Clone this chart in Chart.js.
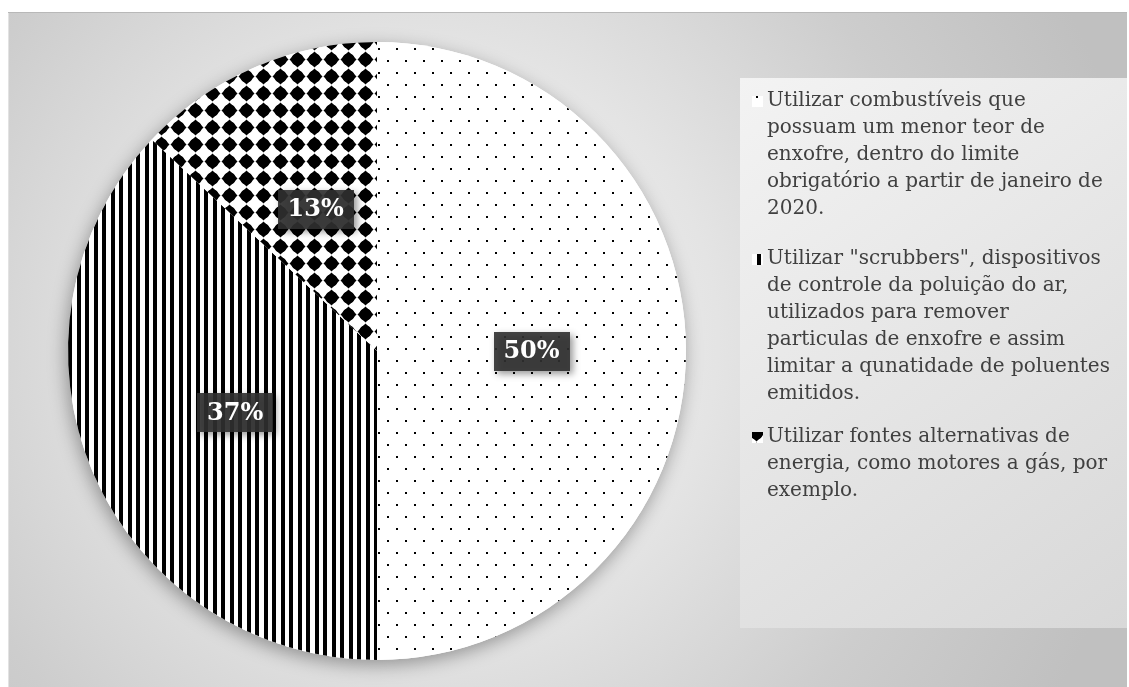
<!DOCTYPE html>
<html>
<head>
<meta charset="utf-8">
<script src="https://cdn.jsdelivr.net/npm/chart.js@4/dist/chart.umd.min.js"></script>
<style>
  html, body { margin: 0; padding: 0; background: #fff; }
  #wrap { width: 1129px; height: 687px; position: relative; }
</style>
</head>
<body>
<div id="wrap"><canvas id="PieChart" width="1129" height="687"></canvas></div>
<script>
// categorias (cada linha da legenda em separado)
const categorias = [
  ['Utilizar combustíveis que', 'possuam um menor teor de', 'enxofre, dentro do limite', 'obrigatório a partir de janeiro de', '2020.'],
  ['Utilizar "scrubbers", dispositivos', 'de controle da poluição do ar,', 'utilizados para remover', 'particulas de enxofre e assim', 'limitar a qunatidade de poluentes', 'emitidos.'],
  ['Utilizar fontes alternativas de', 'energia, como motores a gás, por', 'exemplo.']
];
const percentuais = [50, 37, 13];

// onde começa cada item da legenda
const legendaTopo = [101, 259, 437];
const legendaX = 767;
const linhaAltura = 27;

function tile(w, h, draw) {
  const c = document.createElement('canvas');
  c.width = w; c.height = h;
  const g = c.getContext('2d');
  g.fillStyle = '#fff';
  g.fillRect(0, 0, w, h);
  g.fillStyle = '#000';
  draw(g);
  return document.getElementById('PieChart').getContext('2d').createPattern(c, 'repeat');
}

// pontilhado
const padraoPontos = tile(18, 24, g => {
  g.fillRect(0, 0, 2, 2);
  g.fillRect(9, 12, 2, 2);
});
// listras verticais
const padraoListras = tile(17, 10, g => {
  g.fillRect(0, 0, 4, 10);
  g.fillRect(9, 0, 4, 10);
});
// losangos pretos em grade
const padraoLosangos = tile(17, 17, g => {
  const cx = 8.5, cy = 8.5, r = 8;
  g.beginPath();
  g.moveTo(cx, cy - r);
  g.lineTo(cx + r, cy);
  g.lineTo(cx, cy + r);
  g.lineTo(cx - r, cy);
  g.closePath();
  g.fill();
  g.beginPath();
  g.arc(cx, cy, 6.2, 0, Math.PI * 2);
  g.fill();
});
const padroes = [padraoPontos, padraoListras, padraoLosangos];

const fundo = {
  id: 'fundo',
  beforeDraw(chart) {
    const ctx = chart.ctx;
    const W = chart.width, H = chart.height;
    ctx.save();
    ctx.fillStyle = '#fff';
    ctx.fillRect(0, 0, W, H);
    // painel cinza
    let gr = ctx.createRadialGradient(430, 340, 0, 430, 340, 720);
    gr.addColorStop(0, '#f6f6f6');
    gr.addColorStop(0.4, '#e4e4e4');
    gr.addColorStop(0.72, '#cdcdcd');
    gr.addColorStop(1, '#c0c0c0');
    ctx.fillStyle = gr;
    ctx.fillRect(8, 12, 1119, H - 12);
    ctx.fillStyle = '#b8b8b8';
    ctx.fillRect(8, 12, 1119, 1);
    ctx.fillStyle = '#e2e2e2';
    ctx.fillRect(8, 13, 1, H - 13);
    // caixa da legenda
    gr = ctx.createLinearGradient(740, 78, 1127, 628);
    gr.addColorStop(0, '#f3f3f3');
    gr.addColorStop(1, '#d8d8d8');
    ctx.fillStyle = gr;
    ctx.fillRect(740, 78, 387, 550);
    ctx.restore();
  },
  beforeDatasetsDraw(chart) {
    // sombra da pizza
    const arco = chart.getDatasetMeta(0).data[0];
    if (!arco) return;
    const ctx = chart.ctx;
    ctx.save();
    ctx.shadowColor = 'rgba(0,0,0,0.35)';
    ctx.shadowBlur = 18;
    ctx.shadowOffsetX = -2;
    ctx.shadowOffsetY = 5;
    ctx.fillStyle = '#fff';
    ctx.beginPath();
    ctx.arc(arco.x, arco.y, arco.outerRadius, 0, Math.PI * 2);
    ctx.fill();
    ctx.restore();
  }
};

const rotulos = {
  id: 'rotulos',
  afterDatasetsDraw(chart) {
    const ctx = chart.ctx;
    const meta = chart.getDatasetMeta(0);
    ctx.save();
    ctx.font = 'bold 24px "DejaVu Serif"';
    ctx.textAlign = 'center';
    ctx.textBaseline = 'middle';
    meta.data.forEach((arco, i) => {
      const p = arco.tooltipPosition();
      const texto = percentuais[i] + '%';
      const w = 76, h = 39;
      ctx.save();
      ctx.shadowColor = 'rgba(0,0,0,0.45)';
      ctx.shadowBlur = 7;
      ctx.shadowOffsetX = 3;
      ctx.shadowOffsetY = 3;
      ctx.fillStyle = 'rgba(48,48,48,0.9)';
      ctx.fillRect(Math.round(p.x - w / 2), Math.round(p.y - h / 2), w, h);
      ctx.restore();
      ctx.fillStyle = '#fff';
      ctx.fillText(texto, p.x, p.y + 1);
    });
    ctx.restore();
  },
  afterDraw(chart) {
    // legenda com quebras de linha
    const ctx = chart.ctx;
    ctx.save();
    ctx.font = '20px "DejaVu Serif"';
    ctx.textBaseline = 'middle';
    ctx.fillStyle = '#404040';
    categorias.forEach((linhas, i) => {
      const y0 = legendaTopo[i];
      ctx.save();
      ctx.fillStyle = padroes[i];
      ctx.fillRect(752, y0 - 5, 11, 11);
      ctx.restore();
      linhas.forEach((l, j) => ctx.fillText(l, legendaX, y0 + j * linhaAltura));
    });
    ctx.restore();
  }
};

new Chart(document.getElementById('PieChart'), {
  type: 'pie',
  data: {
    labels: categorias.map(l => l.join(' ')),
    datasets: [{
      data: percentuais,
      backgroundColor: padroes,
      borderWidth: 0
    }]
  },
  options: {
    responsive: false,
    animation: false,
    layout: { padding: { left: 68, right: 443, top: 42, bottom: 27 } },
    plugins: {
      legend: { display: false },
      tooltip: { enabled: false }
    }
  },
  plugins: [fundo, rotulos]
});
</script>
</body>
</html>
